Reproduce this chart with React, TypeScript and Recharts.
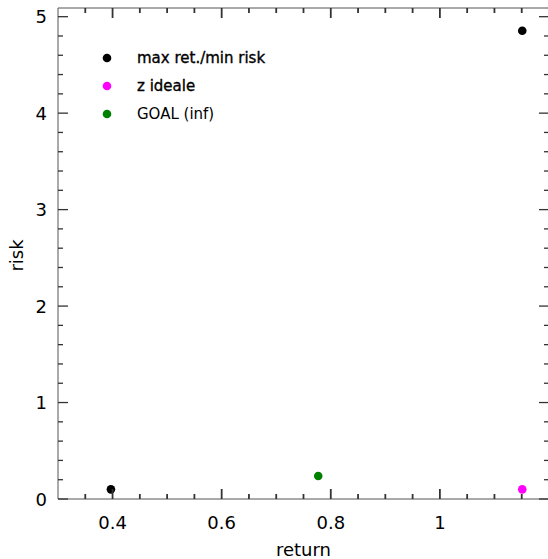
import { ScatterChart, Scatter, XAxis, YAxis, Legend, Label } from 'recharts';

const maxMinReturn = [0.397, 1.151];
const maxMinRisk = [0.1, 4.854];
const idealReturn = [1.151];
const idealRisk = [0.1];
const goalReturn = [0.777];
const goalRisk = [0.238];

const seriesNames = ['max ret./min risk', 'z ideale', 'GOAL (inf)'];

const xTicks = [0.35, 0.4, 0.45, 0.5, 0.55, 0.6, 0.65, 0.7, 0.75, 0.8, 0.85, 0.9, 0.95, 1, 1.05, 1.1, 1.15];
const xMajor = [0.4, 0.6, 0.8, 1];
const yTicks = [0, 0.2, 0.4, 0.6, 0.8, 1, 1.2, 1.4, 1.6, 1.8, 2, 2.2, 2.4, 2.6, 2.8, 3, 3.2, 3.4, 3.6, 3.8, 4, 4.2, 4.4, 4.6, 4.8, 5];
const yMajor = [0, 1, 2, 3, 4, 5];

const toPoints = (xs: number[], ys: number[]) => xs.map((x, i) => ({ x, y: ys[i] }));

const FONT = '"DejaVu Sans", sans-serif';
const AXIS = '#555';
const TICK = '#333';
const isMajor = (v: number, list: number[]) => list.some((m) => Math.abs(m - v) < 1e-6);

const dot = (color: string) => (props: any) => (
  <circle cx={props.cx} cy={props.cy} r={4.3} fill={color} />
);

function BottomTick(props: any) {
  const { x, y, payload } = props;
  const major = isMajor(payload.value, xMajor);
  const len = major ? 10 : 5;
  return (
    <g>
      <path d={`M${x},${y}L${x},${y - len}`} stroke={TICK} strokeWidth={1.8} fill="none" />
      {major && (
        <text x={x} y={y + 30} textAnchor="middle" fontSize={18} fontFamily={FONT} fill="#000">
          {payload.value}
        </text>
      )}
    </g>
  );
}

function TopTick(props: any) {
  const { x, y, payload } = props;
  const major = isMajor(payload.value, xMajor);
  const len = major ? 10 : 5;
  return <path d={`M${x},${y}L${x},${y + len}`} stroke={TICK} strokeWidth={1.8} fill="none" />;
}

function LeftTick(props: any) {
  const { x, y, payload } = props;
  const major = isMajor(payload.value, yMajor);
  return (
    <g>
      <line x1={x} x2={x + (major ? 10 : 5)} y1={y} y2={y} stroke={TICK} strokeWidth={1.3} />
      {major && (
        <text x={x - 11} y={y + 6.5} textAnchor="end" fontSize={18} fontFamily={FONT} fill="#000">
          {payload.value}
        </text>
      )}
    </g>
  );
}

function RightTick(props: any) {
  const { x, y, payload } = props;
  const major = isMajor(payload.value, yMajor);
  return <line x1={x} x2={x - (major ? 10 : 5)} y1={y} y2={y} stroke={TICK} strokeWidth={1.3} />;
}

function LegendBox({ payload }: any) {
  const items = [...(payload || [])].sort(
    (a: any, b: any) => seriesNames.indexOf(a.value) - seriesNames.indexOf(b.value)
  );
  return (
    <div style={{ fontFamily: FONT, fontSize: 15 }}>
      {items.map((e: any, i: number) => (
        <div key={i} style={{ display: 'flex', alignItems: 'center', height: 28 }}>
          <svg width={14} height={14}>
            <circle cx={7} cy={7} r={4.3} fill={e.color} />
          </svg>
          <span
            style={{
              marginLeft: 23,
              color: '#000',
              WebkitTextStroke: i < 2 ? '0.35px #000' : undefined,
            }}
          >
            {e.value}
          </span>
        </div>
      ))}
    </div>
  );
}

export default function App() {
  return (
    <div style={{ position: 'absolute', left: 0, top: 0, width: 548, height: 559, overflow: 'hidden', background: '#fff' }}>
      <ScatterChart width={550} height={559} margin={{ top: 7, right: 0, bottom: 0, left: 8 }}>
        <XAxis
          xAxisId="b"
          dataKey="x"
          type="number"
          orientation="bottom"
          domain={[0.3, 1.2]}
          ticks={xTicks}
          interval={0}
          allowDataOverflow
          height={60}
          tickSize={0}
          tickMargin={0}
          tickLine={false}
          axisLine={{ stroke: AXIS }}
          tick={<BottomTick />}
        >
          <Label
            content={(p: any) => (
              <text
                x={p.viewBox.x + p.viewBox.width / 2}
                y={p.viewBox.y + 57}
                textAnchor="middle"
                fontSize={18}
                fontFamily={FONT}
                fill="#000"
              >
                return
              </text>
            )}
          />
        </XAxis>
        <XAxis
          xAxisId="t"
          dataKey="x"
          type="number"
          orientation="top"
          domain={[0.3, 1.2]}
          ticks={xTicks}
          interval={0}
          allowDataOverflow
          height={1}
          tickSize={0}
          tickMargin={0}
          tickLine={false}
          axisLine={{ stroke: AXIS }}
          tick={<TopTick />}
        />
        <YAxis
          yAxisId="l"
          dataKey="y"
          type="number"
          orientation="left"
          domain={[0, 5.09]}
          ticks={yTicks}
          interval={0}
          allowDataOverflow
          width={50}
          tickSize={0}
          tickMargin={0}
          tickLine={false}
          axisLine={{ stroke: AXIS }}
          tick={<LeftTick />}
        >
          <Label
            content={(p: any) => {
              const cx = p.viewBox.x + 15;
              const cy = p.viewBox.y + p.viewBox.height / 2 + 2;
              return (
                <text
                  transform={`translate(${cx},${cy}) rotate(-90)`}
                  textAnchor="middle"
                  fontSize={18}
                  fontFamily={FONT}
                  fill="#000"
                >
                  risk
                </text>
              );
            }}
          />
        </YAxis>
        <YAxis
          yAxisId="r"
          dataKey="y"
          type="number"
          orientation="right"
          domain={[0, 5.09]}
          ticks={yTicks}
          interval={0}
          allowDataOverflow
          width={1}
          tickSize={0}
          tickMargin={0}
          tickLine={false}
          axisLine={{ stroke: AXIS }}
          tick={<RightTick />}
        />
        <Legend
          layout="vertical"
          align="center"
          verticalAlign="middle"
          wrapperStyle={{ left: 100, top: 44, width: 260 }}
          content={<LegendBox />}
        />
        <Scatter
          name={seriesNames[0]}
          xAxisId="b"
          yAxisId="l"
          data={toPoints(maxMinReturn, maxMinRisk)}
          fill="#000000"
          shape={dot('#000000')}
          isAnimationActive={false}
        />
        <Scatter
          name={seriesNames[1]}
          xAxisId="b"
          yAxisId="l"
          data={toPoints(idealReturn, idealRisk)}
          fill="#ff00ff"
          shape={dot('#ff00ff')}
          isAnimationActive={false}
        />
        <Scatter
          name={seriesNames[2]}
          xAxisId="b"
          yAxisId="l"
          data={toPoints(goalReturn, goalRisk)}
          fill="#008000"
          shape={dot('#008000')}
          isAnimationActive={false}
        />
      </ScatterChart>
    </div>
  );
}
